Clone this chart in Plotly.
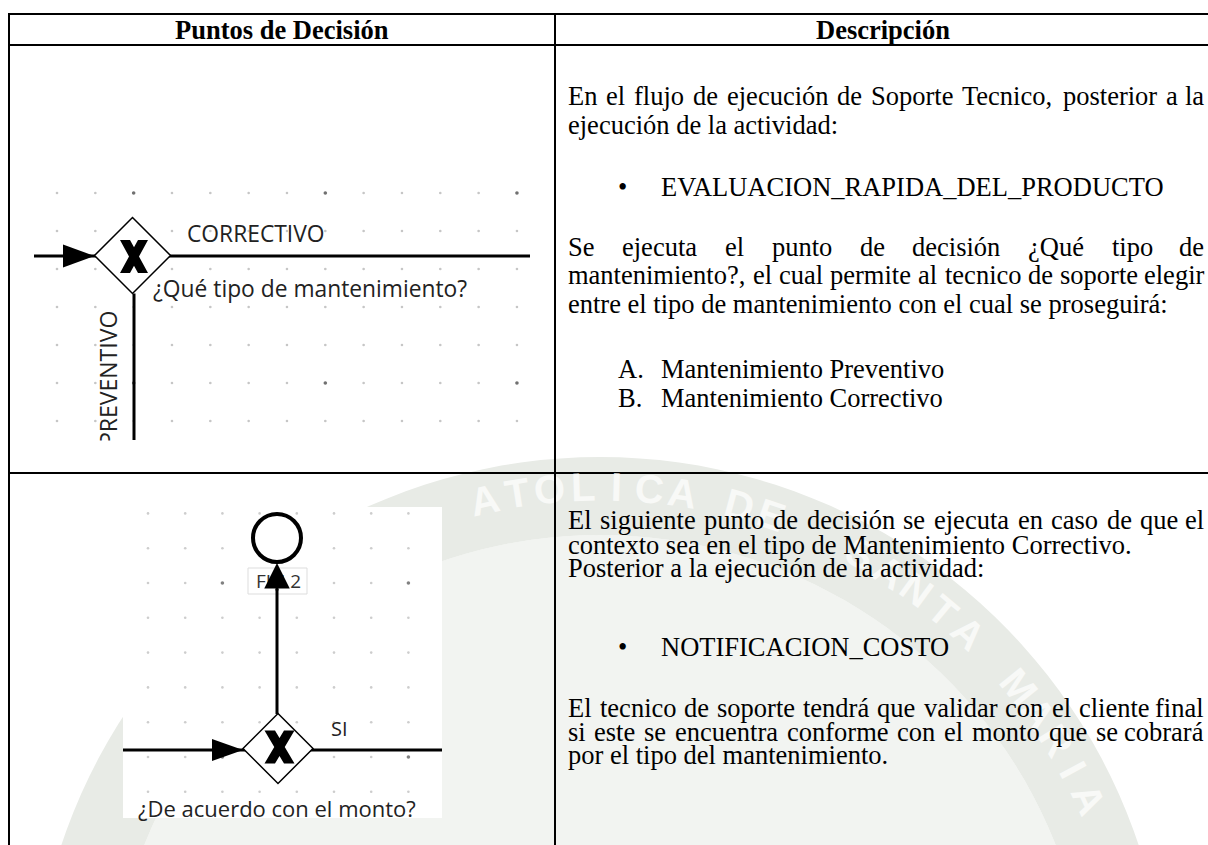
import math
import plotly.graph_objects as go

# ---------------- content (text of the table) ----------------
header_labels = ["Puntos de Decisión", "Descripción"]

row1_lines = [
    "En el flujo de ejecución de Soporte Tecnico, posterior a la",
    "ejecución de la actividad:",
    "Se ejecuta el punto de decisión ¿Qué tipo de",
    "mantenimiento?, el cual permite al tecnico de soporte elegir",
    "entre el tipo de mantenimiento con el cual se proseguirá:",
]
row1_justify = [True, False, True, True, False]
row1_bullet_items = ["EVALUACION_RAPIDA_DEL_PRODUCTO"]
row1_list_marks = ["A.", "B."]
row1_list_items = ["Mantenimiento Preventivo", "Mantenimiento Correctivo"]

row2_lines = [
    "El siguiente punto de decisión se ejecuta en caso de que el",
    "contexto sea en el tipo de Mantenimiento Correctivo.",
    "Posterior a la ejecución de la actividad:",
    "El tecnico de soporte tendrá que validar con el cliente final",
    "si este se encuentra conforme con el monto que se cobrará",
    "por el tipo del mantenimiento.",
]
row2_justify = [True, False, False, True, True, False]
row2_bullet_items = ["NOTIFICACION_COSTO"]

gateway1_question = "¿Qué tipo de mantenimiento?"
gateway1_flows = ["CORRECTIVO", "PREVENTIVO"]
gateway2_question = "¿De acuerdo con el monto?"
gateway2_flows = ["SI"]
end_event_label = "FIN 2"

watermark_words = ["UNIVERSIDAD", "CATOLICA", "DE", "SANTA", "MARIA"]

# ---------------- layout constants (pixels) ----------------
FIG_W, FIG_H = 1208, 845
T_LEFT, T_RIGHT, T_TOP = 9, 1215, 14
HEADER_BOTTOM, COL_SPLIT, ROW_SPLIT = 45, 555, 473
TEXT_X0, TEXT_X1 = 567, 1205
BULLET_X, BULLET_TEXT_X, LIST_MARK_X = 622, 660, 617
BODY_SIZE = 26.5
SERIF = "Liberation Serif"
SANS = "Open Sans"
DIAG_COLOR = "#222222"

ROW1_Y = [95.5, 125, 246.5, 275, 303.5]
ROW1_BULLET_Y = [186.5]
ROW1_LIST_Y = [369, 398]
ROW2_Y = [520, 544.5, 568, 708, 731.5, 755]
ROW2_BULLET_Y = [647]

IMG2_BOX = (123, 507, 442, 818)          # pasted picture of diagram 2
WM_CX, WM_CY = 600, 1025                  # watermark seal
WM_R_OUT, WM_R_IN, WM_R_TXT = 568, 490, 538
WM_WORD_START_DEG = [-58, -16, 15, 29, 51]
WM_STEP_DEG = 3.55
WM_BAND, WM_INNER, WM_LETTER = "#e8ebe6", "#f2f4f1", "#f8f9f7"

# Times / Liberation Serif advance widths (1/1000 em)
_TNR = {
    ' ': 250, ',': 250, '.': 250, ':': 278, '?': 444, '¿': 444, '_': 500,
    'a': 444, 'b': 500, 'c': 444, 'd': 500, 'e': 444, 'f': 333, 'g': 500, 'h': 500,
    'i': 278, 'j': 278, 'k': 500, 'l': 278, 'm': 778, 'n': 500, 'o': 500, 'p': 500,
    'q': 500, 'r': 333, 's': 389, 't': 278, 'u': 500, 'v': 500, 'w': 722, 'x': 500,
    'y': 500, 'z': 444, 'á': 444, 'é': 444, 'í': 278, 'ó': 500, 'ú': 500, 'ñ': 500,
    'A': 722, 'B': 667, 'C': 667, 'D': 722, 'E': 611, 'F': 556, 'G': 722, 'H': 722,
    'I': 333, 'J': 389, 'K': 722, 'L': 611, 'M': 889, 'N': 722, 'O': 722, 'P': 556,
    'Q': 722, 'R': 667, 'S': 556, 'T': 611, 'U': 722, 'V': 722, 'W': 944, 'X': 722,
    'Y': 722, 'Z': 611,
}


def text_w(s, size):
    return sum(_TNR.get(c, 500) for c in s) * size / 1000.0


fig = go.Figure()
annotations = []
shapes = []


def add_text(x, y, text, size, family=SERIF, color="black", xanchor="left",
             yanchor="middle", angle=0):
    annotations.append(dict(
        x=x, y=y, xref="x", yref="y", text=text, showarrow=False,
        xanchor=xanchor, yanchor=yanchor, textangle=angle, borderpad=0,
        font=dict(family=family, size=size, color=color)))


def add_line_of_text(text, y, justify):
    if not justify:
        add_text(TEXT_X0, y, text, BODY_SIZE)
        return
    words = text.split(" ")
    widths = [text_w(w, BODY_SIZE) for w in words]
    gap = (TEXT_X1 - TEXT_X0 - sum(widths)) / (len(words) - 1)
    x = TEXT_X0
    for i, (w, wd) in enumerate(zip(words, widths)):
        if i == len(words) - 1:
            add_text(TEXT_X1, y, w, BODY_SIZE, xanchor="right")
        else:
            add_text(x, y, w, BODY_SIZE)
        x += wd + gap


def line(x0, y0, x1, y1, width=2, color="black"):
    shapes.append(dict(type="line", x0=x0, y0=y0, x1=x1, y1=y1, xref="x", yref="y",
                       line=dict(color=color, width=width)))


def poly(pts, fill="black", lc="black", lw=0, layer="above"):
    path = "M " + " L ".join(f"{px:.2f},{py:.2f}" for px, py in pts) + " Z"
    shapes.append(dict(type="path", path=path, xref="x", yref="y", fillcolor=fill,
                       layer=layer, line=dict(color=lc, width=lw)))


def gateway(cx, cy, half):
    poly([(cx, cy - half), (cx + half, cy), (cx, cy + half), (cx - half, cy)],
         fill="white", lc="black", lw=1.5)


def x_mark(cx, cy, a, b, tw):
    yt = -b + 2 * b * (a - tw) / (2 * a - tw)
    rel = [(-a, -b), (-a + tw, -b), (0, yt), (a - tw, -b), (a, -b), (tw / 2, 0),
           (a, b), (a - tw, b), (0, -yt), (-a + tw, b), (-a, b), (-tw / 2, 0)]
    poly([(cx + px, cy + py) for px, py in rel])


def dots(x0, dx, nx, y0, dy, ny, major_k, major_j, minor_col, major_col):
    mx, my, Mx, My = [], [], [], []
    for k in range(nx):
        for j in range(ny):
            x, y = x0 + dx * k, y0 + dy * j
            if k % 5 == major_k and j % 5 == major_j:
                Mx.append(x); My.append(y)
            else:
                mx.append(x); my.append(y)
    fig.add_trace(go.Scatter(x=mx, y=my, mode="markers", hoverinfo="skip", showlegend=False,
                             marker=dict(size=2.6, color=minor_col)))
    fig.add_trace(go.Scatter(x=Mx, y=My, mode="markers", hoverinfo="skip", showlegend=False,
                             marker=dict(size=3.6, color=major_col)))


# ---------------- faint watermark seal (background of the page) ----------------
def ring_pts(r, reverse=False):
    pts = [(WM_CX + r * math.cos(math.radians(a)), WM_CY + r * math.sin(math.radians(a)))
           for a in range(0, 361, 2)]
    return pts[::-1] if reverse else pts


def pts_path(pts):
    return "M " + " L ".join(f"{x:.1f},{y:.1f}" for x, y in pts) + " Z"


shapes.append(dict(type="path", path=pts_path(ring_pts(WM_R_IN)), xref="x", yref="y",
                   layer="below", fillcolor=WM_INNER, line=dict(width=0)))
shapes.append(dict(type="path", path=pts_path(ring_pts(WM_R_OUT)) + " " + pts_path(ring_pts(WM_R_IN, True)),
                   xref="x", yref="y", layer="below", fillcolor=WM_BAND, line=dict(width=0)))
# white pasted picture of diagram 2 hides the seal
shapes.append(dict(type="rect", x0=IMG2_BOX[0], y0=IMG2_BOX[1], x1=IMG2_BOX[2], y1=IMG2_BOX[3],
                   xref="x", yref="y", layer="below", fillcolor="white", line=dict(width=0)))

for word, start in zip(watermark_words, WM_WORD_START_DEG):
    for i, ch in enumerate(word):
        ang = start + i * WM_STEP_DEG
        lx = WM_CX + WM_R_TXT * math.sin(math.radians(ang))
        ly = WM_CY - WM_R_TXT * math.cos(math.radians(ang))
        if IMG2_BOX[0] - 14 < lx < IMG2_BOX[2] + 14 and IMG2_BOX[1] - 14 < ly < IMG2_BOX[3] + 14:
            continue
        if ly > FIG_H - 10 or ly < ROW_SPLIT + 12:
            continue
        annotations.append(dict(x=lx, y=ly, xref="x", yref="y", text="<b>" + ch + "</b>",
                                showarrow=False, textangle=ang, xanchor="center", yanchor="middle",
                                font=dict(family="Liberation Sans", size=40, color=WM_LETTER)))
# re-draw the column rule over the seal letters
annotations.append(dict(x=COL_SPLIT, y=ROW_SPLIT, ax=COL_SPLIT, ay=620, xref="x", yref="y",
                        axref="x", ayref="y", text="", showarrow=True, arrowhead=0,
                        arrowwidth=2, arrowcolor="black", standoff=0, startstandoff=0))

# ---------------- table grid ----------------
line(T_LEFT, T_TOP, T_RIGHT, T_TOP)
line(T_LEFT, HEADER_BOTTOM, T_RIGHT, HEADER_BOTTOM)
line(T_LEFT, ROW_SPLIT, T_RIGHT, ROW_SPLIT)
line(T_LEFT, T_TOP - 1, T_LEFT, FIG_H + 5)
line(COL_SPLIT, T_TOP - 1, COL_SPLIT, FIG_H + 5)

# headers
add_text((T_LEFT + COL_SPLIT) / 2, 30, "<b>" + header_labels[0] + "</b>", BODY_SIZE, xanchor="center")
add_text((COL_SPLIT + FIG_W) / 2 + 1, 30, "<b>" + header_labels[1] + "</b>", BODY_SIZE, xanchor="center")

# ---------------- row 1 description ----------------
for txt, y, j in zip(row1_lines, ROW1_Y, row1_justify):
    add_line_of_text(txt, y, j)
for txt, y in zip(row1_bullet_items, ROW1_BULLET_Y):
    add_text(BULLET_X, y, "•", BODY_SIZE, xanchor="center")
    add_text(BULLET_TEXT_X, y, txt, BODY_SIZE)
for mark, txt, y in zip(row1_list_marks, row1_list_items, ROW1_LIST_Y):
    add_text(LIST_MARK_X, y, mark, BODY_SIZE)
    add_text(BULLET_TEXT_X, y, txt, BODY_SIZE)

# ---------------- row 2 description ----------------
for txt, y, j in zip(row2_lines, ROW2_Y, row2_justify):
    add_line_of_text(txt, y, j)
for txt, y in zip(row2_bullet_items, ROW2_BULLET_Y):
    add_text(BULLET_X, y, "•", BODY_SIZE, xanchor="center")
    add_text(BULLET_TEXT_X, y, txt, BODY_SIZE)

# ---------------- diagram 1 : ¿Qué tipo de mantenimiento? ----------------
dots(57, 38.33, 13, 193, 38, 7, 2, 0, "#c6c6c6", "#707070")
G1X, G1Y, G1H = 132.5, 255.5, 38
line(34, 256, 530, 256, width=3)                 # incoming + CORRECTIVO flow
line(134, G1Y + G1H, 134, 440, width=3)          # PREVENTIVO flow
poly([(63, 244.5), (94.5, 256), (63, 267.5)])     # incoming arrow head
gateway(G1X, G1Y, G1H)
x_mark(134, 256.5, 14, 16.5, 10)
add_text(186, 233, gateway1_flows[0], 22.8, family=SANS, color=DIAG_COLOR)
add_text(152, 288, gateway1_question, 22.8, family=SANS, color=DIAG_COLOR)
add_text(108, 379, gateway1_flows[1], 23, family=SANS, color=DIAG_COLOR, xanchor="center", angle=-90)
# picture edge cuts the vertical label
annotations.append(dict(x=108, y=455, xref="x", yref="y", text=" ", showarrow=False,
                        width=44, height=28, bgcolor="white", borderpad=0))

# ---------------- diagram 2 : ¿De acuerdo con el monto? ----------------
dots(148, 37.2, 8, 513.4, 34.8, 9, 2, 2, "#cdcdcd", "#808080")
shapes.append(dict(type="circle", x0=253, y0=514, x1=301, y1=562, xref="x", yref="y",
                   fillcolor="white", line=dict(color="black", width=4)))
shapes.append(dict(type="rect", x0=248, y0=568, x1=307, y1=594, xref="x", yref="y",
                   fillcolor="white", line=dict(color="#dddddd", width=1)))
line(277, 589, 277, 714, width=3)
G2X, G2Y, G2H = 278, 748.5, 35
line(123, 750, 442, 750, width=3)
poly([(212, 739), (243, 750), (212, 761)])
gateway(G2X, G2Y, G2H)
x_mark(279.5, 747, 15, 16.5, 10.5)
add_text(278, 581, end_event_label, 19, family=SANS, color="#333333", xanchor="center")
# arrow head entering the end event (drawn over the label)
annotations.append(dict(x=277, y=563, ax=277, ay=592, xref="x", yref="y", axref="x", ayref="y",
                        text="", showarrow=True, arrowhead=2, arrowsize=1.7, arrowwidth=3,
                        arrowcolor="black", standoff=0, startstandoff=0))
add_text(339, 728, gateway2_flows[0], 20, family=SANS, color=DIAG_COLOR, xanchor="center")
add_text(277, 808, gateway2_question, 22, family=SANS, color=DIAG_COLOR, xanchor="center")

fig.update_layout(
    width=FIG_W, height=FIG_H, autosize=False,
    margin=dict(l=0, r=0, t=0, b=0, pad=0),
    paper_bgcolor="white", plot_bgcolor="rgba(0,0,0,0)",
    xaxis=dict(range=[0, FIG_W], visible=False, fixedrange=True),
    yaxis=dict(range=[FIG_H, 0], visible=False, fixedrange=True),
    shapes=shapes, annotations=annotations, showlegend=False,
)

fig.write_html("out.html", config={"displayModeBar": False, "staticPlot": True},
               post_script="document.body.style.margin='0';document.body.style.overflow='hidden';")
